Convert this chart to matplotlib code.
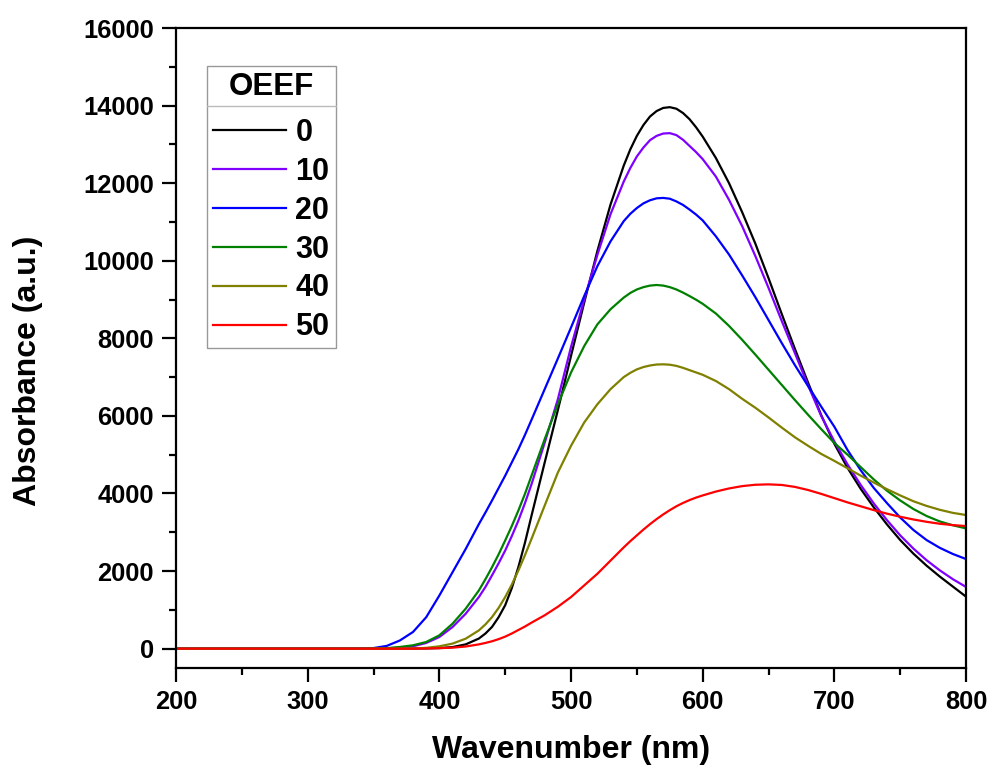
import matplotlib
matplotlib.use("Agg")
import matplotlib.pyplot as plt
from matplotlib.lines import Line2D
from matplotlib.ticker import MultipleLocator

plt.rcParams['font.family'] = ['Liberation Sans', 'DejaVu Sans']
plt.rcParams['font.weight'] = 'bold'

# wavelength grid (nm) and absorbance for each OEEF value
wavelength = [200, 300, 330, 340, 350, 360, 370, 380, 390, 400, 410, 420, 430, 435, 440,
              445, 450, 455, 460, 465, 470, 480, 490, 500, 510, 520, 530, 540, 545, 550,
              555, 560, 565, 570, 575, 580, 585, 590, 595, 600, 610, 620, 630, 640, 650,
              660, 670, 680, 690, 700, 710, 720, 730, 740, 750, 760, 770, 780, 790, 800]

abs_0 = [0, 0, 0, 0, 0, 0, 0, 2, 5, 14, 40, 110, 260, 390, 560,
         810, 1120, 1560, 2100, 2730, 3430, 4800, 6150, 7550, 8920, 10250, 11450, 12450, 12870, 13220,
         13500, 13720, 13860, 13940, 13960, 13920, 13810, 13650, 13440, 13200, 12650, 12000, 11250, 10440, 9550,
         8630, 7730, 6860, 6020, 5280, 4660, 4120, 3640, 3200, 2800, 2450, 2140, 1860, 1600, 1340]
abs_10 = [0, 0, 0, 0, 0, 8, 26, 60, 146, 300, 557, 900, 1330, 1590, 1890,
          2200, 2530, 2900, 3300, 3750, 4240, 5310, 6430, 7780, 9000, 10150, 11200, 12040, 12390, 12690,
          12920, 13110, 13220, 13280, 13290, 13240, 13120, 12960, 12800, 12620, 12170, 11570, 10890, 10120, 9300,
          8450, 7620, 6790, 6000, 5340, 4750, 4220, 3740, 3310, 2920, 2580, 2280, 2020, 1790, 1590]
abs_20 = [0, 0, 0, 5, 15, 70, 210, 430, 810, 1370, 1970, 2570, 3210, 3510, 3820,
          4140, 4460, 4800, 5140, 5510, 5900, 6690, 7480, 8280, 9090, 9860, 10500, 11020, 11210, 11360,
          11480, 11560, 11610, 11620, 11600, 11530, 11440, 11320, 11190, 11040, 10630, 10160, 9620, 9060, 8470,
          7880, 7310, 6770, 6240, 5720, 5120, 4600, 4140, 3750, 3380, 3060, 2800, 2600, 2440, 2310]
abs_30 = [0, 0, 0, 0, 3, 12, 43, 86, 171, 343, 643, 1030, 1500, 1790, 2100,
          2430, 2790, 3160, 3560, 3990, 4460, 5400, 6300, 7120, 7800, 8360, 8750, 9050, 9170, 9260,
          9320, 9360, 9375, 9360, 9320, 9260, 9180, 9090, 8995, 8890, 8640, 8320, 7960, 7580, 7190,
          6800, 6410, 6030, 5660, 5300, 5000, 4680, 4360, 4070, 3820, 3600, 3420, 3280, 3180, 3100]
abs_40 = [0, 0, 0, 0, 0, 0, 0, 5, 20, 60, 130, 257, 470, 625, 814,
          1050, 1330, 1650, 2014, 2410, 2830, 3690, 4540, 5230, 5830, 6300, 6690, 7000, 7110, 7200,
          7260, 7300, 7325, 7330, 7320, 7290, 7240, 7180, 7120, 7060, 6900, 6690, 6440, 6210, 5960,
          5700, 5450, 5230, 5020, 4840, 4650, 4460, 4280, 4110, 3950, 3800, 3680, 3580, 3500, 3445]
abs_50 = [0, 0, 0, 0, 0, 0, 0, 0, 5, 12, 25, 55, 110, 147, 190,
          245, 310, 390, 480, 570, 670, 860, 1080, 1330, 1630, 1930, 2270, 2610, 2770, 2920,
          3070, 3210, 3340, 3460, 3570, 3670, 3755, 3830, 3895, 3950, 4050, 4130, 4190, 4225, 4235,
          4220, 4170, 4090, 3990, 3880, 3770, 3670, 3570, 3480, 3400, 3330, 3270, 3220, 3185, 3160]

labels = ['0', '10', '20', '30', '40', '50']
colors = ['#000000', '#8000FF', '#0000FF', '#008000', '#808000', '#FF0000']
series = [abs_0, abs_10, abs_20, abs_30, abs_40, abs_50]

fig = plt.figure(figsize=(9.9, 7.66), dpi=100)
ax = fig.add_axes([0.1778, 0.1279, 0.798, 0.8355])

for y, c, lab in zip(series, colors, labels):
    ax.plot(wavelength, y, color=c, lw=1.6, label=lab)

ax.set_xlim(200, 800)
ax.set_ylim(-500, 16000)
ax.xaxis.set_major_locator(MultipleLocator(100))
ax.xaxis.set_minor_locator(MultipleLocator(50))
ax.yaxis.set_major_locator(MultipleLocator(2000))
ax.yaxis.set_minor_locator(MultipleLocator(1000))

for s in ax.spines.values():
    s.set_linewidth(1.6)
ax.tick_params(which='major', direction='out', length=10, width=1.6, labelsize=18.4, pad=6)
ax.tick_params(which='minor', direction='out', length=5, width=1.6)
for t in ax.get_xticklabels() + ax.get_yticklabels():
    t.set_fontweight('bold')

ax.set_xlabel('Wavenumber (nm)', fontsize=23, fontweight='bold')
ax.set_ylabel('Absorbance (a.u.)', fontsize=23, fontweight='bold')
ax.xaxis.set_label_coords(0.5, -0.105)
ax.yaxis.set_label_coords(-0.168, 0.465)

leg = ax.legend(loc='upper left', bbox_to_anchor=(0.039, 0.9406), title='OEEF',
                prop={'size': 22, 'weight': 'bold'}, fancybox=False, framealpha=1,
                edgecolor='#999999', handlelength=2.4, handletextpad=0.3,
                borderpad=0.2, labelspacing=0.29, borderaxespad=0)
leg.get_title().set_fontsize(22.5)
leg.get_title().set_fontweight('bold')
leg.get_frame().set_linewidth(1.0)
# a little more room between the title and the entries
leg._legend_box.sep = leg._legend_box.sep + 5

# thin rule under the legend title
fig.canvas.draw()
fb = leg.get_frame().get_window_extent()
tb = leg.get_title().get_window_extent()
inv = fig.transFigure.inverted()
(x0, y0) = inv.transform((fb.x0, tb.y0 - 4))
(x1, _) = inv.transform((fb.x1, tb.y0 - 4))
fig.add_artist(Line2D([x0, x1], [y0, y0], color='#bbbbbb', lw=1.0))

fig.savefig('out.png', dpi=100)
